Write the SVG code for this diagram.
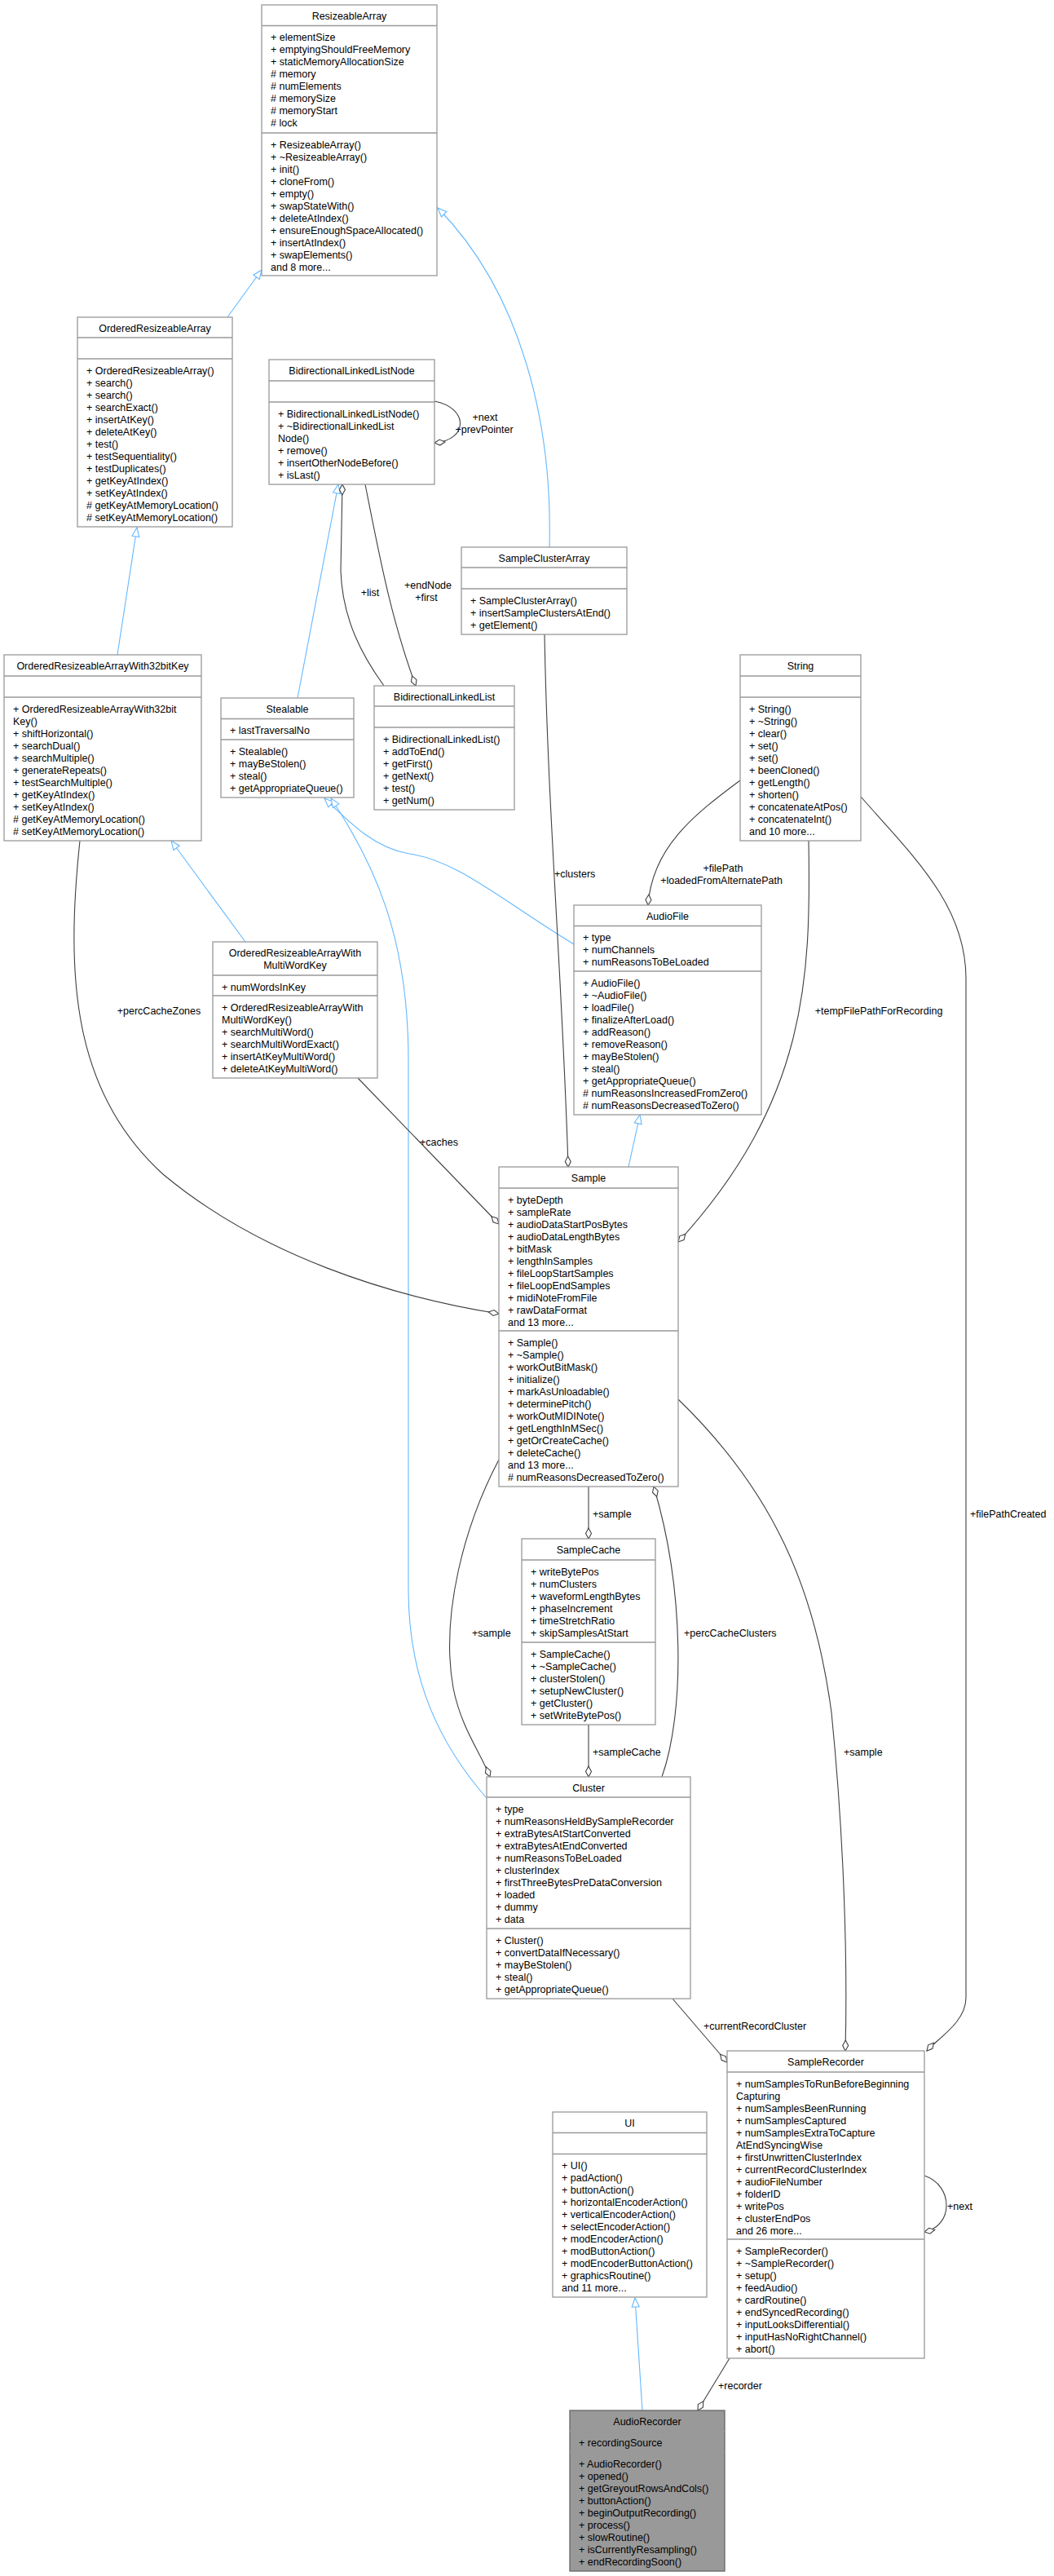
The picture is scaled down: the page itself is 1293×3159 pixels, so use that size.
<svg xmlns="http://www.w3.org/2000/svg" width="1293" height="3159" viewBox="0 0 1293 3159">
<style>
text{font-family:"Liberation Sans",Arial,sans-serif;font-size:12.5px;fill:#000}
.t{text-anchor:middle}
.box{fill:#fff;stroke:#999;stroke-width:1.3}
.cur{fill:#999;stroke:#666;stroke-width:1.3}
.sep{stroke:#999;stroke-width:1.3}
.inh{fill:none;stroke:#63b8ff;stroke-width:1.1;marker-end:url(#tri)}
.agg{fill:none;stroke:#404040;stroke-width:1.1;marker-end:url(#dia)}
</style>
<defs>
<marker id="tri" markerUnits="userSpaceOnUse" markerWidth="14" markerHeight="12" viewBox="-1 -6 14 12" refX="11" refY="0" orient="auto"><path d="M0,-4.5 L11,0 L0,4.5 Z" fill="#fff" stroke="#63b8ff" stroke-width="1.1"/></marker>
<marker id="dia" markerUnits="userSpaceOnUse" markerWidth="16" markerHeight="10" viewBox="-1 -5 16 10" refX="13" refY="0" orient="auto"><path d="M0,0 L6.5,-3.5 L13,0 L6.5,3.5 Z" fill="#fff" stroke="#404040" stroke-width="1.1"/></marker>
</defs>
<rect width="1293" height="3159" fill="#fff"/>
<g id="connectors">
<path class="inh" d="M279,389 L321,331"/>
<path class="inh" d="M674,671 C678,520 640,360 537,255"/>
<path class="inh" d="M144,803 L168,647"/>
<path class="inh" d="M365,856 L415,594"/>
<path class="inh" d="M301,1155 L210,1031"/>
<path class="inh" d="M704,1158 C610,1100 560,1055 502,1047 C460,1040 430,1010 398,979"/>
<path class="inh" d="M597,2205 C540,2140 501,2060 501,1950 L501,1300 C501,1150 460,1060 406,979"/>
<path class="inh" d="M771,1431 L785,1367"/>
<path class="inh" d="M788,2956 L779,2818"/>
<path class="agg" d="M533,492 C575,500 575,540 533,543"/>
<path class="agg" d="M471,841 C445,805 420,760 418,700 L420,594"/>
<path class="agg" d="M448,594 C465,680 480,760 510,841"/>
<path class="agg" d="M668,778 C672,1000 690,1200 697,1431"/>
<path class="agg" d="M908,957 C850,1000 800,1040 795,1110"/>
<path class="agg" d="M992,1031 C995,1200 990,1350 832,1523"/>
<path class="agg" d="M1056,977 C1120,1050 1185,1110 1185,1200 L1185,2450 C1185,2480 1150,2500 1137,2515"/>
<path class="agg" d="M439,1322 L612,1501"/>
<path class="agg" d="M98,1031 C80,1200 90,1340 200,1440 C320,1540 480,1590 612,1611"/>
<path class="agg" d="M722,1823 L722,1887"/>
<path class="agg" d="M812,2179 C840,2100 840,1950 802,1823"/>
<path class="agg" d="M612,1790 C570,1870 540,1980 556,2070 C566,2120 590,2150 601,2179"/>
<path class="agg" d="M722,2115 L722,2179"/>
<path class="agg" d="M832,1716 C950,1830 1000,1950 1020,2100 C1035,2250 1040,2400 1037,2515"/>
<path class="agg" d="M825,2451 L892,2529"/>
<path class="agg" d="M1134,2668 C1170,2680 1170,2730 1134,2737"/>
<path class="agg" d="M895,2892 L856,2956"/>
<text class="t" x="595" y="515.5">+next</text>
<text class="t" x="594" y="530.5">+prevPointer</text>
<text class="t" x="454" y="730.5">+list</text>
<text class="t" x="525" y="721.5">+endNode</text>
<text class="t" x="523" y="736.5">+first</text>
<text x="680" y="1075.5">+clusters</text>
<text class="t" x="887" y="1068.5">+filePath</text>
<text class="t" x="885" y="1083.5">+loadedFromAlternatePath</text>
<text class="t" x="1078" y="1243.5">+tempFilePathForRecording</text>
<text x="1190" y="1860.5">+filePathCreated</text>
<text x="515" y="1404.5">+caches</text>
<text class="t" x="195" y="1243.5">+percCacheZones</text>
<text x="727" y="1860.5">+sample</text>
<text x="839" y="2006.5">+percCacheClusters</text>
<text x="579" y="2006.5">+sample</text>
<text x="727" y="2152.5">+sampleCache</text>
<text x="1035" y="2152.5">+sample</text>
<text x="863" y="2488.5">+currentRecordCluster</text>
<text x="1162" y="2709.5">+next</text>
<text x="881" y="2929.5">+recorder</text>
</g>
<g id="ResizeableArray">
<rect class="box" x="321" y="6" width="215" height="332"/>
<path class="sep" d="M321,31.5 H536 M321,163 H536"/>
<text class="t" x="428.5" y="23.5">ResizeableArray</text>
<text x="332" y="50"><tspan x="332" dy="0">+ elementSize</tspan><tspan x="332" dy="15">+ emptyingShouldFreeMemory</tspan><tspan x="332" dy="15">+ staticMemoryAllocationSize</tspan><tspan x="332" dy="15"># memory</tspan><tspan x="332" dy="15"># numElements</tspan><tspan x="332" dy="15"># memorySize</tspan><tspan x="332" dy="15"># memoryStart</tspan><tspan x="332" dy="15"># lock</tspan></text>
<text x="332" y="181.5"><tspan x="332" dy="0">+ ResizeableArray()</tspan><tspan x="332" dy="15">+ ~ResizeableArray()</tspan><tspan x="332" dy="15">+ init()</tspan><tspan x="332" dy="15">+ cloneFrom()</tspan><tspan x="332" dy="15">+ empty()</tspan><tspan x="332" dy="15">+ swapStateWith()</tspan><tspan x="332" dy="15">+ deleteAtIndex()</tspan><tspan x="332" dy="15">+ ensureEnoughSpaceAllocated()</tspan><tspan x="332" dy="15">+ insertAtIndex()</tspan><tspan x="332" dy="15">+ swapElements()</tspan><tspan x="332" dy="15">and 8 more...</tspan></text>
</g>
<g id="OrderedResizeableArray">
<rect class="box" x="95" y="389" width="190" height="257"/>
<path class="sep" d="M95,414 H285 M95,440 H285"/>
<text class="t" x="190" y="406.5">OrderedResizeableArray</text>
<text x="106" y="458.5"><tspan x="106" dy="0">+ OrderedResizeableArray()</tspan><tspan x="106" dy="15">+ search()</tspan><tspan x="106" dy="15">+ search()</tspan><tspan x="106" dy="15">+ searchExact()</tspan><tspan x="106" dy="15">+ insertAtKey()</tspan><tspan x="106" dy="15">+ deleteAtKey()</tspan><tspan x="106" dy="15">+ test()</tspan><tspan x="106" dy="15">+ testSequentiality()</tspan><tspan x="106" dy="15">+ testDuplicates()</tspan><tspan x="106" dy="15">+ getKeyAtIndex()</tspan><tspan x="106" dy="15">+ setKeyAtIndex()</tspan><tspan x="106" dy="15"># getKeyAtMemoryLocation()</tspan><tspan x="106" dy="15"># setKeyAtMemoryLocation()</tspan></text>
</g>
<g id="BidirectionalLinkedListNode">
<rect class="box" x="330" y="441" width="203" height="153"/>
<path class="sep" d="M330,467 H533 M330,493 H533"/>
<text class="t" x="431.5" y="458.5">BidirectionalLinkedListNode</text>
<text x="341" y="511.5"><tspan x="341" dy="0">+ BidirectionalLinkedListNode()</tspan><tspan x="341" dy="15">+ ~BidirectionalLinkedList</tspan><tspan x="341" dy="15">Node()</tspan><tspan x="341" dy="15">+ remove()</tspan><tspan x="341" dy="15">+ insertOtherNodeBefore()</tspan><tspan x="341" dy="15">+ isLast()</tspan></text>
</g>
<g id="OrderedResizeableArrayWith32bitKey">
<rect class="box" x="5" y="803" width="242" height="228"/>
<path class="sep" d="M5,829 H247 M5,855 H247"/>
<text class="t" x="126" y="820.5">OrderedResizeableArrayWith32bitKey</text>
<text x="16" y="873.5"><tspan x="16" dy="0">+ OrderedResizeableArrayWith32bit</tspan><tspan x="16" dy="15">Key()</tspan><tspan x="16" dy="15">+ shiftHorizontal()</tspan><tspan x="16" dy="15">+ searchDual()</tspan><tspan x="16" dy="15">+ searchMultiple()</tspan><tspan x="16" dy="15">+ generateRepeats()</tspan><tspan x="16" dy="15">+ testSearchMultiple()</tspan><tspan x="16" dy="15">+ getKeyAtIndex()</tspan><tspan x="16" dy="15">+ setKeyAtIndex()</tspan><tspan x="16" dy="15"># getKeyAtMemoryLocation()</tspan><tspan x="16" dy="15"># setKeyAtMemoryLocation()</tspan></text>
</g>
<g id="Stealable">
<rect class="box" x="271" y="856" width="163" height="122"/>
<path class="sep" d="M271,881.5 H434 M271,907 H434"/>
<text class="t" x="352.5" y="873.5">Stealable</text>
<text x="282" y="900">+ lastTraversalNo</text>
<text x="282" y="925.5"><tspan x="282" dy="0">+ Stealable()</tspan><tspan x="282" dy="15">+ mayBeStolen()</tspan><tspan x="282" dy="15">+ steal()</tspan><tspan x="282" dy="15">+ getAppropriateQueue()</tspan></text>
</g>
<g id="BidirectionalLinkedList">
<rect class="box" x="459" y="841" width="172" height="152"/>
<path class="sep" d="M459,866 H631 M459,892 H631"/>
<text class="t" x="545" y="858.5">BidirectionalLinkedList</text>
<text x="470" y="910.5"><tspan x="470" dy="0">+ BidirectionalLinkedList()</tspan><tspan x="470" dy="15">+ addToEnd()</tspan><tspan x="470" dy="15">+ getFirst()</tspan><tspan x="470" dy="15">+ getNext()</tspan><tspan x="470" dy="15">+ test()</tspan><tspan x="470" dy="15">+ getNum()</tspan></text>
</g>
<g id="SampleClusterArray">
<rect class="box" x="566" y="671" width="203" height="107"/>
<path class="sep" d="M566,696 H769 M566,722 H769"/>
<text class="t" x="667.5" y="688.5">SampleClusterArray</text>
<text x="577" y="740.5"><tspan x="577" dy="0">+ SampleClusterArray()</tspan><tspan x="577" dy="15">+ insertSampleClustersAtEnd()</tspan><tspan x="577" dy="15">+ getElement()</tspan></text>
</g>
<g id="String">
<rect class="box" x="908" y="803" width="148" height="228"/>
<path class="sep" d="M908,829 H1056 M908,855 H1056"/>
<text class="t" x="982" y="820.5">String</text>
<text x="919" y="873.5"><tspan x="919" dy="0">+ String()</tspan><tspan x="919" dy="15">+ ~String()</tspan><tspan x="919" dy="15">+ clear()</tspan><tspan x="919" dy="15">+ set()</tspan><tspan x="919" dy="15">+ set()</tspan><tspan x="919" dy="15">+ beenCloned()</tspan><tspan x="919" dy="15">+ getLength()</tspan><tspan x="919" dy="15">+ shorten()</tspan><tspan x="919" dy="15">+ concatenateAtPos()</tspan><tspan x="919" dy="15">+ concatenateInt()</tspan><tspan x="919" dy="15">and 10 more...</tspan></text>
</g>
<g id="OrderedResizeableArrayWithMultiWordKey">
<rect class="box" x="261" y="1155" width="202" height="167"/>
<path class="sep" d="M261,1196 H463 M261,1221 H463"/>
<text class="t" x="362" y="1173">OrderedResizeableArrayWith</text>
<text class="t" x="362" y="1188">MultiWordKey</text>
<text x="272" y="1214.5">+ numWordsInKey</text>
<text x="272" y="1239.5"><tspan x="272" dy="0">+ OrderedResizeableArrayWith</tspan><tspan x="272" dy="15">MultiWordKey()</tspan><tspan x="272" dy="15">+ searchMultiWord()</tspan><tspan x="272" dy="15">+ searchMultiWordExact()</tspan><tspan x="272" dy="15">+ insertAtKeyMultiWord()</tspan><tspan x="272" dy="15">+ deleteAtKeyMultiWord()</tspan></text>
</g>
<g id="AudioFile">
<rect class="box" x="704" y="1110" width="230" height="257"/>
<path class="sep" d="M704,1135.5 H934 M704,1191 H934"/>
<text class="t" x="819" y="1127.5">AudioFile</text>
<text x="715" y="1154"><tspan x="715" dy="0">+ type</tspan><tspan x="715" dy="15">+ numChannels</tspan><tspan x="715" dy="15">+ numReasonsToBeLoaded</tspan></text>
<text x="715" y="1209.5"><tspan x="715" dy="0">+ AudioFile()</tspan><tspan x="715" dy="15">+ ~AudioFile()</tspan><tspan x="715" dy="15">+ loadFile()</tspan><tspan x="715" dy="15">+ finalizeAfterLoad()</tspan><tspan x="715" dy="15">+ addReason()</tspan><tspan x="715" dy="15">+ removeReason()</tspan><tspan x="715" dy="15">+ mayBeStolen()</tspan><tspan x="715" dy="15">+ steal()</tspan><tspan x="715" dy="15">+ getAppropriateQueue()</tspan><tspan x="715" dy="15"># numReasonsIncreasedFromZero()</tspan><tspan x="715" dy="15"># numReasonsDecreasedToZero()</tspan></text>
</g>
<g id="Sample">
<rect class="box" x="612" y="1431" width="220" height="392"/>
<path class="sep" d="M612,1457 H832 M612,1632 H832"/>
<text class="t" x="722" y="1448.5">Sample</text>
<text x="623" y="1475.5"><tspan x="623" dy="0">+ byteDepth</tspan><tspan x="623" dy="15">+ sampleRate</tspan><tspan x="623" dy="15">+ audioDataStartPosBytes</tspan><tspan x="623" dy="15">+ audioDataLengthBytes</tspan><tspan x="623" dy="15">+ bitMask</tspan><tspan x="623" dy="15">+ lengthInSamples</tspan><tspan x="623" dy="15">+ fileLoopStartSamples</tspan><tspan x="623" dy="15">+ fileLoopEndSamples</tspan><tspan x="623" dy="15">+ midiNoteFromFile</tspan><tspan x="623" dy="15">+ rawDataFormat</tspan><tspan x="623" dy="15">and 13 more...</tspan></text>
<text x="623" y="1650.5"><tspan x="623" dy="0">+ Sample()</tspan><tspan x="623" dy="15">+ ~Sample()</tspan><tspan x="623" dy="15">+ workOutBitMask()</tspan><tspan x="623" dy="15">+ initialize()</tspan><tspan x="623" dy="15">+ markAsUnloadable()</tspan><tspan x="623" dy="15">+ determinePitch()</tspan><tspan x="623" dy="15">+ workOutMIDINote()</tspan><tspan x="623" dy="15">+ getLengthInMSec()</tspan><tspan x="623" dy="15">+ getOrCreateCache()</tspan><tspan x="623" dy="15">+ deleteCache()</tspan><tspan x="623" dy="15">and 13 more...</tspan><tspan x="623" dy="15"># numReasonsDecreasedToZero()</tspan></text>
</g>
<g id="SampleCache">
<rect class="box" x="640" y="1887" width="164" height="228"/>
<path class="sep" d="M640,1913 H804 M640,2014 H804"/>
<text class="t" x="722" y="1904.5">SampleCache</text>
<text x="651" y="1931.5"><tspan x="651" dy="0">+ writeBytePos</tspan><tspan x="651" dy="15">+ numClusters</tspan><tspan x="651" dy="15">+ waveformLengthBytes</tspan><tspan x="651" dy="15">+ phaseIncrement</tspan><tspan x="651" dy="15">+ timeStretchRatio</tspan><tspan x="651" dy="15">+ skipSamplesAtStart</tspan></text>
<text x="651" y="2032.5"><tspan x="651" dy="0">+ SampleCache()</tspan><tspan x="651" dy="15">+ ~SampleCache()</tspan><tspan x="651" dy="15">+ clusterStolen()</tspan><tspan x="651" dy="15">+ setupNewCluster()</tspan><tspan x="651" dy="15">+ getCluster()</tspan><tspan x="651" dy="15">+ setWriteBytePos()</tspan></text>
</g>
<g id="Cluster">
<rect class="box" x="597" y="2179" width="250" height="272"/>
<path class="sep" d="M597,2204 H847 M597,2365 H847"/>
<text class="t" x="722" y="2196.5">Cluster</text>
<text x="608" y="2222.5"><tspan x="608" dy="0">+ type</tspan><tspan x="608" dy="15">+ numReasonsHeldBySampleRecorder</tspan><tspan x="608" dy="15">+ extraBytesAtStartConverted</tspan><tspan x="608" dy="15">+ extraBytesAtEndConverted</tspan><tspan x="608" dy="15">+ numReasonsToBeLoaded</tspan><tspan x="608" dy="15">+ clusterIndex</tspan><tspan x="608" dy="15">+ firstThreeBytesPreDataConversion</tspan><tspan x="608" dy="15">+ loaded</tspan><tspan x="608" dy="15">+ dummy</tspan><tspan x="608" dy="15">+ data</tspan></text>
<text x="608" y="2383.5"><tspan x="608" dy="0">+ Cluster()</tspan><tspan x="608" dy="15">+ convertDataIfNecessary()</tspan><tspan x="608" dy="15">+ mayBeStolen()</tspan><tspan x="608" dy="15">+ steal()</tspan><tspan x="608" dy="15">+ getAppropriateQueue()</tspan></text>
</g>
<g id="SampleRecorder">
<rect class="box" x="892" y="2515" width="242" height="377"/>
<path class="sep" d="M892,2541 H1134 M892,2746 H1134"/>
<text class="t" x="1013" y="2532.5">SampleRecorder</text>
<text x="903" y="2559.5"><tspan x="903" dy="0">+ numSamplesToRunBeforeBeginning</tspan><tspan x="903" dy="15">Capturing</tspan><tspan x="903" dy="15">+ numSamplesBeenRunning</tspan><tspan x="903" dy="15">+ numSamplesCaptured</tspan><tspan x="903" dy="15">+ numSamplesExtraToCapture</tspan><tspan x="903" dy="15">AtEndSyncingWise</tspan><tspan x="903" dy="15">+ firstUnwrittenClusterIndex</tspan><tspan x="903" dy="15">+ currentRecordClusterIndex</tspan><tspan x="903" dy="15">+ audioFileNumber</tspan><tspan x="903" dy="15">+ folderID</tspan><tspan x="903" dy="15">+ writePos</tspan><tspan x="903" dy="15">+ clusterEndPos</tspan><tspan x="903" dy="15">and 26 more...</tspan></text>
<text x="903" y="2764.5"><tspan x="903" dy="0">+ SampleRecorder()</tspan><tspan x="903" dy="15">+ ~SampleRecorder()</tspan><tspan x="903" dy="15">+ setup()</tspan><tspan x="903" dy="15">+ feedAudio()</tspan><tspan x="903" dy="15">+ cardRoutine()</tspan><tspan x="903" dy="15">+ endSyncedRecording()</tspan><tspan x="903" dy="15">+ inputLooksDifferential()</tspan><tspan x="903" dy="15">+ inputHasNoRightChannel()</tspan><tspan x="903" dy="15">+ abort()</tspan></text>
</g>
<g id="UI">
<rect class="box" x="678" y="2590" width="189" height="227"/>
<path class="sep" d="M678,2615.5 H867 M678,2641.5 H867"/>
<text class="t" x="772.5" y="2607.5">UI</text>
<text x="689" y="2660"><tspan x="689" dy="0">+ UI()</tspan><tspan x="689" dy="15">+ padAction()</tspan><tspan x="689" dy="15">+ buttonAction()</tspan><tspan x="689" dy="15">+ horizontalEncoderAction()</tspan><tspan x="689" dy="15">+ verticalEncoderAction()</tspan><tspan x="689" dy="15">+ selectEncoderAction()</tspan><tspan x="689" dy="15">+ modEncoderAction()</tspan><tspan x="689" dy="15">+ modButtonAction()</tspan><tspan x="689" dy="15">+ modEncoderButtonAction()</tspan><tspan x="689" dy="15">+ graphicsRoutine()</tspan><tspan x="689" dy="15">and 11 more...</tspan></text>
</g>
<g id="AudioRecorder">
<rect class="cur" x="699" y="2956" width="190" height="197"/>
<path class="sep" d="M699,2981.5 H889 M699,3007.5 H889" stroke="#666"/>
<text class="t" x="794" y="2973.5">AudioRecorder</text>
<text x="710" y="3000">+ recordingSource</text>
<text x="710" y="3026"><tspan x="710" dy="0">+ AudioRecorder()</tspan><tspan x="710" dy="15">+ opened()</tspan><tspan x="710" dy="15">+ getGreyoutRowsAndCols()</tspan><tspan x="710" dy="15">+ buttonAction()</tspan><tspan x="710" dy="15">+ beginOutputRecording()</tspan><tspan x="710" dy="15">+ process()</tspan><tspan x="710" dy="15">+ slowRoutine()</tspan><tspan x="710" dy="15">+ isCurrentlyResampling()</tspan><tspan x="710" dy="15">+ endRecordingSoon()</tspan></text>
</g>
</svg>
